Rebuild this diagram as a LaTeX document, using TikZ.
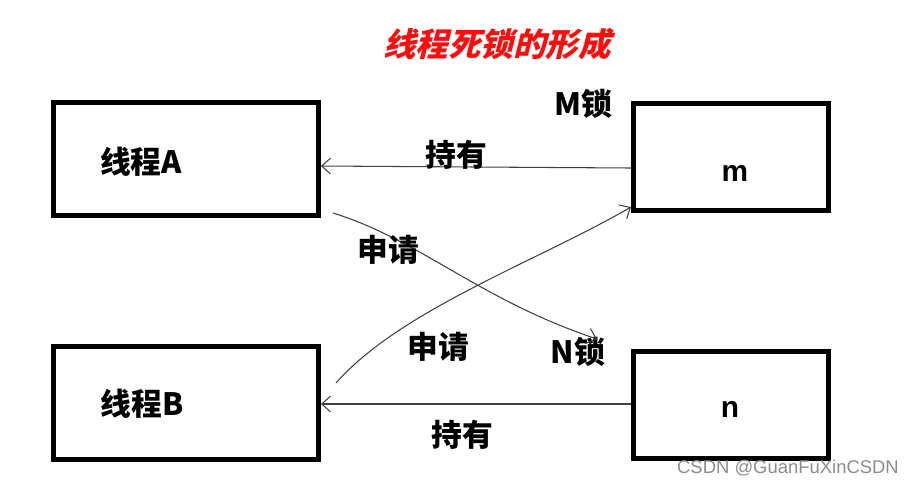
\documentclass[tikz,border=0pt]{standalone}
\usepackage{fontspec}
\setmainfont{Noto Sans CJK SC}
\newfontfamily\titlefont[FakeSlant=0.25]{Noto Sans CJK SC}
\setsansfont{Liberation Sans}
\usetikzlibrary{arrows.meta}
\tikzset{tbox/.style={draw,line width=2.8pt,minimum width=5.3cm,minimum height=2.25cm,inner sep=0pt}}
\tikzset{rbox/.style={draw,line width=2.8pt,minimum width=3.9cm,minimum height=2.15cm,inner sep=0pt}}
\tikzset{lbl/.style={font=\bfseries\fontsize{17.5}{19}\selectfont,inner sep=0pt}}
\tikzset{harrow/.style={-{Straight Barb[length=5pt,width=9pt]},line width=0.6pt,black!75}}

\begin{document}
\begin{tikzpicture}[x=0.02cm,y=-0.02cm]
            \useasboundingbox (0,0) rectangle (917,485);
            % title
            \node[font=\titlefont\bfseries\fontsize{18.5}{20}\selectfont,text=red!95!white] (title) at (497,44) {线程死锁的形成};
            % the boxes
            \node[tbox] (thA) at (186,159) {};
            \node[rbox] (lkm) at (731,157) {};
            \node[tbox] (thB) at (186,403) {};
            \node[rbox] (lkn) at (731,405) {};
            % box texts
            \node[lbl] (tA) at (141,162) {线程A};
            \node[lbl] (tB) at (142,404) {线程B};
            \node[lbl,font=\sffamily\bfseries\fontsize{17}{19}\selectfont] (tm) at (735,173) {m};
            \node[lbl,font=\sffamily\bfseries\fontsize{17}{19}\selectfont] (tn) at (730,409) {n};
            \node[lbl] (Ml) at (583,104) {M锁};
            \node[lbl] (Nl) at (578,352) {N锁};
            % holding
            \draw[harrow] (lkm.west |- 0,168) -- (thA.east |- 0,166);
            \draw[harrow] (lkn.west |- 0,404) -- (thB.east |- 0,404);
            \node[lbl] (h1) at (456,155) {持有};
            \node[lbl] (h2) at (462,435) {持有};
            % requesting
            \coordinate (sA) at (333,213);
            \coordinate (eA) at (597,339);
            \coordinate (sB) at (336,383);
            \coordinate (eB) at (631,207);
            \draw[harrow] (sA) .. controls (420,240) and (480,300) .. (eA);
            \draw[harrow] (sB) .. controls (400,310) and (540,260) .. (eB);
            \node[lbl] (r1) at (388,250) {申请};
            \node[lbl] (r2) at (438,347) {申请};
            % mark
            \node[font=\sffamily\fontsize{10.5}{12}\selectfont,text=black!45] (wm) at (788,468) {CSDN @GuanFuXinCSDN};
        \end{tikzpicture}
\end{document}
